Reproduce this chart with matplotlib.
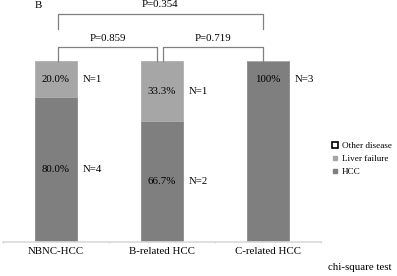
import matplotlib.pyplot as plt
from matplotlib.lines import Line2D

plt.rcParams["font.family"] = ["Liberation Serif", "DejaVu Serif"]

categories = ["NBNC-HCC", "B-related HCC", "C-related HCC"]
hcc = [0.800, 0.667, 1.000]
liver_failure = [0.200, 0.333, 0.000]
hcc_n = [4, 2, 3]
lf_n = [1, 1, 0]
hcc_labels = ["80.0%", "66.7%", "100%"]
lf_labels = ["20.0%", "33.3%", ""]
p_values = ["P=0.859", "P=0.719", "P=0.354"]

dark = "#7f7f7f"
light = "#a6a6a6"

fig = plt.figure(figsize=(3.97, 2.76), dpi=100)
ax = fig.add_axes([3 / 397, 34 / 276, 318 / 397, 242 / 276])
x = range(len(categories))
ax.bar(x, hcc, width=0.4, color=dark, edgecolor="#8a8a8a", linewidth=0.6)
ax.bar(x, liver_failure, width=0.4, bottom=hcc, color=light,
       edgecolor="#b0b0b0", linewidth=0.6)

fs = 7.8
for i in x:
    if hcc_labels[i]:
        y = hcc[i] / 2 if liver_failure[i] else 0.9
        ax.text(i, y, hcc_labels[i], ha="center", va="center", fontsize=fs)
        ax.text(i + 0.25, y, f"N={hcc_n[i]}", ha="left", va="center", fontsize=fs)
    if lf_labels[i]:
        y = hcc[i] + liver_failure[i] / 2
        ax.text(i, y, lf_labels[i], ha="center", va="center", fontsize=fs)
        ax.text(i + 0.25, y, f"N={lf_n[i]}", ha="left", va="center", fontsize=fs)

bc = "#808080"
def bracket(x0, x1, y0, y1, label):
    ax.plot([x0, x0, x1, x1], [y0, y1, y1, y0], color=bc, lw=0.9,
            clip_on=False)
    ax.text((x0 + x1) / 2, y1 + 0.05, label, ha="center", va="center",
            fontsize=fs)

bracket(0.02, 0.95, 1.0, 1.077, p_values[0])
bracket(1.01, 1.95, 1.0, 1.077, p_values[1])
bracket(0.02, 1.95, 1.177, 1.26, p_values[2])

ax.set_xlim(-0.5, 2.5)
ax.set_ylim(0, 1.337)
ax.set_yticks([])
ax.set_xticks([-0.5, 0.5, 1.5, 2.5], minor=False)
ax.set_xticklabels([])
ax.tick_params(axis="x", length=2, color="#d9d9d9", direction="inout")
for i, c in enumerate(categories):
    ax.text(i, -0.055, c, ha="center", va="center", fontsize=fs)
for s in ["top", "right", "left"]:
    ax.spines[s].set_visible(False)
ax.spines["bottom"].set_color("#d9d9d9")
ax.spines["bottom"].set_linewidth(1.2)

fig.text(35 / 397, 1 - 6 / 276, "B", ha="left", va="center", fontsize=fs)

handles = [
    Line2D([], [], marker="s", ls="", markersize=4, markerfacecolor="white",
           markeredgecolor="black", markeredgewidth=1.2),
    Line2D([], [], marker="s", ls="", markersize=3, markerfacecolor=light,
           markeredgecolor=light),
    Line2D([], [], marker="s", ls="", markersize=3, markerfacecolor=dark,
           markeredgecolor=dark),
]
fig.legend(handles, ["Other disease", "Liver failure", "HCC"],
           loc="upper left", bbox_to_anchor=(328 / 397, 1 - 137 / 276),
           frameon=False, fontsize=6.6, handlelength=0.6, handletextpad=0.4,
           labelspacing=0.5, borderpad=0)

fig.text(328 / 397, 1 - 267 / 276, "chi-square test", ha="left", va="center",
         fontsize=fs)

fig.savefig("out.png", dpi=100)
